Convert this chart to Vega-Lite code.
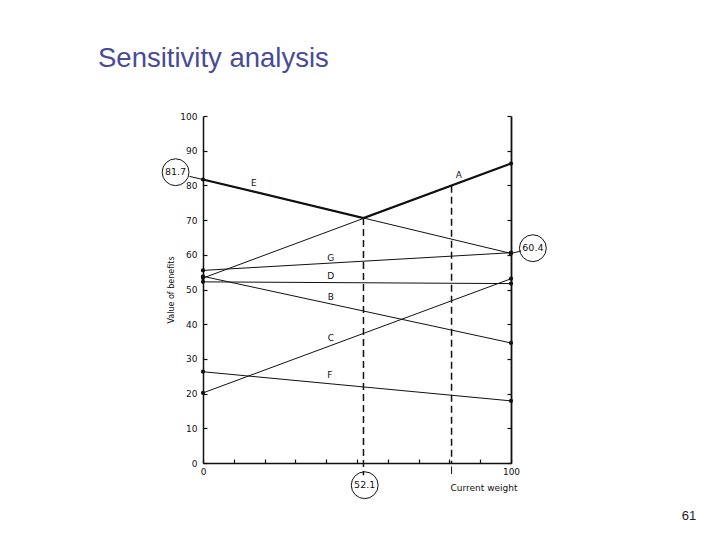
{
  "$schema": "https://vega.github.io/schema/vega-lite/v6.json",
  "width": 308,
  "height": 347,
  "autosize": "none",
  "padding": {"left": 203, "top": 116, "right": 209, "bottom": 77},
  "background": "white",
  "title": {
    "text": "Sensitivity analysis",
    "anchor": "start",
    "frame": "group",
    "dx": -105,
    "offset": 40,
    "font": "Liberation Sans",
    "fontSize": 27.5,
    "fontWeight": "normal",
    "color": "#4a4a9a"
  },
  "config": {
    "view": {"stroke": null},
    "axis": {
      "domainColor": "#111",
      "domainWidth": 1.5,
      "tickColor": "#111",
      "tickWidth": 1.2,
      "labelColor": "#111",
      "titleColor": "#111",
      "labelFont": "DejaVu Sans",
      "titleFont": "DejaVu Sans",
      "titleFontWeight": "normal",
      "grid": false
    },
    "axisX": {
      "values": [0, 10, 20, 30, 40, 50, 60, 70, 80, 90, 100],
      "tickSize": -4,
      "labelPadding": 8,
      "labelFontSize": 9,
      "labelFlush": false,
      "labelExpr": "datum.value == 0 || datum.value == 100 ? datum.label : ''",
      "titleFontSize": 9,
      "titleX": 314,
      "titleAlign": "right",
      "titlePadding": 7
    },
    "text": {"font": "DejaVu Sans", "fontSize": 9, "color": "#111"}
  },
  "datasets": {
    "lines": [
      {"option": "A", "weight": 0, "value": 53.3},
      {"option": "A", "weight": 100, "value": 86.3},
      {"option": "B", "weight": 0, "value": 53.8},
      {"option": "B", "weight": 100, "value": 34.6},
      {"option": "C", "weight": 0, "value": 20.2},
      {"option": "C", "weight": 100, "value": 53.1},
      {"option": "D", "weight": 0, "value": 52.2},
      {"option": "D", "weight": 100, "value": 51.7},
      {"option": "E", "weight": 0, "value": 81.7},
      {"option": "E", "weight": 100, "value": 60.4},
      {"option": "F", "weight": 0, "value": 26.3},
      {"option": "F", "weight": 100, "value": 17.9},
      {"option": "G", "weight": 0, "value": 55.5},
      {"option": "G", "weight": 100, "value": 60.6}
    ],
    "envelope": [
      {"weight": 0, "value": 81.7},
      {"weight": 52.1, "value": 70.6},
      {"weight": 100, "value": 86.3}
    ],
    "cuts": [
      {"weight": 52.1, "value": 70.6, "bottom": -3.5},
      {"weight": 80.7, "value": 79.9, "bottom": 0}
    ],
    "labels": [
      {"option": "E", "weight": 16.5, "value": 80.6},
      {"option": "A", "weight": 83.1, "value": 83.1},
      {"option": "G", "weight": 41.5, "value": 59.0},
      {"option": "D", "weight": 41.5, "value": 53.8},
      {"option": "B", "weight": 41.5, "value": 47.8},
      {"option": "C", "weight": 41.5, "value": 36.0},
      {"option": "F", "weight": 41.2, "value": 25.3}
    ],
    "callouts": [
      {"text": "81.7", "weight": -8.9, "value": 83.8},
      {"text": "60.4", "weight": 107.1, "value": 61.9},
      {"text": "52.1", "weight": 52.5, "value": -6.4}
    ],
    "one": [{"n": 1}]
  },
  "resolve": {"axis": {"y": "independent"}},
  "layer": [
    {
      "data": {"name": "lines"},
      "mark": {"type": "line", "color": "#111", "strokeWidth": 1, "clip": false},
      "encoding": {
        "x": {
          "field": "weight", "type": "quantitative",
          "scale": {"domain": [0, 100], "nice": false},
          "title": "Current weight"
        },
        "y": {
          "field": "value", "type": "quantitative",
          "scale": {"domain": [0, 100], "nice": false},
          "axis": {
            "values": [0, 10, 20, 30, 40, 50, 60, 70, 80, 90, 100],
            "tickSize": -4,
            "labelPadding": 10,
            "labelFontSize": 9,
            "title": "Value of benefits",
            "titleFontSize": 8,
            "titlePadding": 4
          }
        },
        "detail": {"field": "option"}
      }
    },
    {
      "data": {"name": "envelope"},
      "mark": {"type": "line", "color": "#111", "strokeWidth": 2.2},
      "encoding": {
        "x": {"field": "weight", "type": "quantitative", "title": "Current weight"},
        "y": {
          "field": "value", "type": "quantitative",
          "axis": {
            "orient": "right",
            "values": [0, 10, 20, 30, 40, 50, 60, 70, 80, 90, 100],
            "tickSize": -4,
            "labels": false,
            "title": null,
            "domainWidth": 1.8
          }
        }
      }
    },
    {
      "data": {"name": "lines"},
      "mark": {"type": "point", "filled": true, "color": "#111", "size": 18, "opacity": 1},
      "encoding": {
        "x": {"field": "weight", "type": "quantitative", "title": "Current weight"},
        "y": {"field": "value", "type": "quantitative", "axis": null}
      }
    },
    {
      "data": {"name": "cuts"},
      "mark": {"type": "rule", "color": "#111", "strokeWidth": 1.5, "strokeDash": [7, 4]},
      "encoding": {
        "x": {"field": "weight", "type": "quantitative", "title": "Current weight"},
        "y": {"field": "value", "type": "quantitative", "axis": null},
        "y2": {"field": "bottom"}
      }
    },
    {
      "data": {"name": "labels"},
      "mark": {"type": "text", "fontSize": 9},
      "encoding": {
        "x": {"field": "weight", "type": "quantitative", "title": "Current weight"},
        "y": {"field": "value", "type": "quantitative", "axis": null},
        "text": {"field": "option"}
      }
    },
    {
      "data": {"name": "callouts"},
      "mark": {"type": "point", "shape": "circle", "filled": false, "color": "#111", "strokeWidth": 1, "size": 720, "opacity": 1},
      "encoding": {
        "x": {"field": "weight", "type": "quantitative", "title": "Current weight"},
        "y": {"field": "value", "type": "quantitative", "axis": null}
      }
    },
    {
      "data": {"name": "callouts"},
      "mark": {"type": "text", "fontSize": 9.5},
      "encoding": {
        "x": {"field": "weight", "type": "quantitative", "title": "Current weight"},
        "y": {"field": "value", "type": "quantitative", "axis": null},
        "text": {"field": "text"}
      }
    },
    {
      "data": {"name": "one"},
      "mark": {"type": "rule", "color": "#111", "strokeWidth": 1},
      "encoding": {
        "x": {"datum": -4.4, "type": "quantitative", "title": "Current weight"},
        "x2": {"datum": 0},
        "y": {"datum": 82.6, "type": "quantitative", "axis": null},
        "y2": {"datum": 81.7}
      }
    },
    {
      "data": {"name": "one"},
      "mark": {"type": "rule", "color": "#111", "strokeWidth": 1},
      "encoding": {
        "x": {"datum": 103.3, "type": "quantitative", "title": "Current weight"},
        "x2": {"datum": 100},
        "y": {"datum": 61.1, "type": "quantitative", "axis": null},
        "y2": {"datum": 60.4}
      }
    },
    {
      "data": {"name": "one"},
      "mark": {"type": "rule", "color": "#111", "strokeWidth": 1},
      "encoding": {
        "x": {"datum": 80.7, "type": "quantitative", "title": "Current weight"},
        "y": {"datum": -1, "type": "quantitative", "axis": null},
        "y2": {"datum": -3.2}
      }
    },
    {
      "data": {"name": "one"},
      "mark": {"type": "text", "font": "Liberation Sans", "fontSize": 13, "color": "#222"},
      "encoding": {
        "x": {"datum": 157.8, "type": "quantitative", "title": "Current weight"},
        "y": {"datum": -15.4, "type": "quantitative", "axis": null},
        "text": {"value": "61"}
      }
    }
  ]
}
